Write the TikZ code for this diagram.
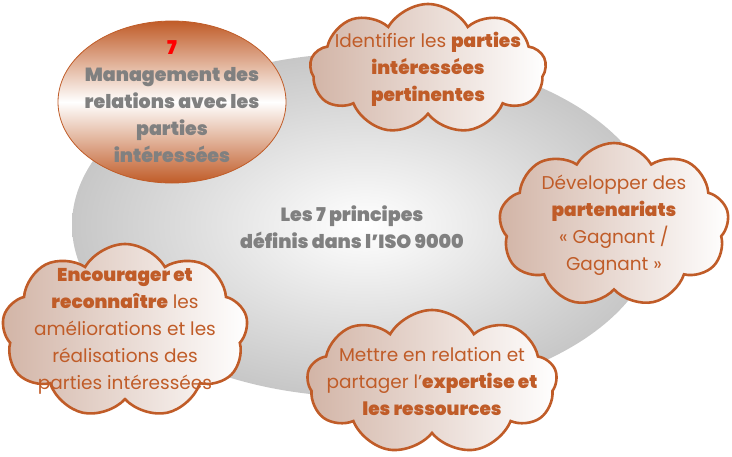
\documentclass[tikz,border=0pt]{standalone}
\usepackage{fontspec}
\setmainfont{Poppins}[BoldFont=* Black]
\usetikzlibrary{shapes.symbols}
\definecolor{rost}{RGB}{192,92,40}
\definecolor{sand}{RGB}{210,180,166}
\definecolor{grautext}{RGB}{128,128,128}
\tikzset{
	wolke/.style={cloud, cloud puffs=9, cloud puff arc=120, cloud ignores aspect,
		draw=rost, line width=2.6pt, left color=sand, right color=white, inner sep=0pt},
	wolkentext/.style={text=rost, align=center, font=\fontsize{18.5}{27}\selectfont},
	grautxt/.style={text=grautext, align=center, font=\bfseries\fontsize{19}{27}\selectfont}
}
\begin{document}
\begin{tikzpicture}[x=1pt,y=-1pt]
	\useasboundingbox (0,0) rectangle (732,456);
	%grosse ellipse
	\shade[inner color=white, outer color=black!22] (365,225) ellipse (293 and 172);
	\node[grautxt] (mitte) at (352,227) {Les 7 principes\\définis dans l’ISO 9000};
	%
	\shade[draw=rost, line width=.8pt, top color=rost, bottom color=rost, middle color=white] (172,102) ellipse (114 and 81);
	\node[grautxt] (prinz) at (172,102) {\textcolor{red}{7}\\Management des\\relations avec les\\parties\\intéressées};
	%wolken
	\node[wolke, minimum width=236pt, minimum height=130pt] (w1) at (428,69) {};
	\node[wolkentext] (t1) at (w1) {Identifier les \textbf{parties}\\\textbf{intéressées}\\\textbf{pertinentes}};
	%
	\node[wolke, minimum width=230pt, minimum height=164pt] (w2) at (614,225) {};
	\node[wolkentext] (t2) at (w2) {Développer des\\\textbf{partenariats}\\« Gagnant /\\Gagnant »};
	%
	\node[wolke, minimum width=246pt, minimum height=174pt] (w3) at (125,331) {};
	\node[wolkentext] (t3) at (w3) {\textbf{Encourager et}\\\textbf{reconnaître} les\\améliorations et les\\réalisations des\\parties intéressées};
	%
	\node[wolke, minimum width=250pt, minimum height=144pt] (w4) at (432,382) {};
	\node[wolkentext] (t4) at (w4) {Mettre en relation et\\partager l’\textbf{expertise et}\\\textbf{les ressources}};
\end{tikzpicture}
\end{document}
